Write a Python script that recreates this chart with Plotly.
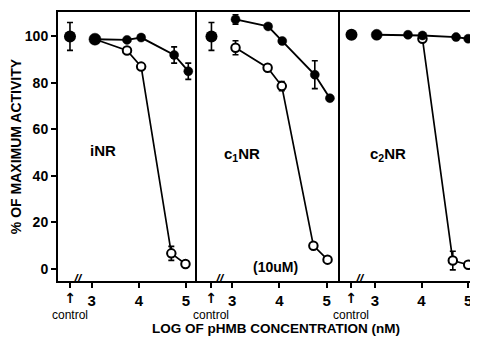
import plotly.graph_objects as go

# ---------------- data ----------------
panel_names = ["iNR", "c<sub>1</sub>NR", "c<sub>2</sub>NR"]
control_x = [2.54, 2.56, 2.50]
control_y = [100.0, 100.0, 100.7]
control_err = [6, 6, None]

inr_filled_x = [3.07, 3.75, 4.05, 4.75, 5.05]
inr_filled_y = [98.8, 98.5, 99.5, 92.0, 85.0]
inr_filled_err = [None, None, None, 3.5, 3.5]
inr_open_x = [3.07, 3.75, 4.05, 4.69, 4.99]
inr_open_y = [98.8, 93.9, 87.0, 6.6, 2.0]
inr_open_err = [None, None, None, 3, None]

c1_filled_x = [3.07, 3.76, 4.06, 4.75, 5.07]
c1_filled_y = [107.3, 104.3, 98.0, 83.5, 73.4]
c1_filled_err = [2, None, None, 6, None]
c1_open_x = [3.07, 3.75, 4.05, 4.72, 5.02]
c1_open_y = [95.1, 86.5, 78.6, 9.9, 3.9]
c1_open_err = [3, None, 2, None, None]

c2_filled_x = [3.04, 3.71, 4.02, 4.74, 5.00]
c2_filled_y = [100.7, 100.7, 100.4, 99.7, 99.0]
c2_filled_err = [None, None, None, None, None]
c2_open_x = [4.02, 4.67, 5.00]
c2_open_y = [99.0, 3.5, 1.7]
c2_open_err = [None, 4, None]

y_ticks = [0, 20, 40, 60, 80, 100]
x_ticks = [3, 4, 5]
x_tick_labels = ["3", "4", "5"]
control_label = ("<span style='font-family:DejaVu Sans;font-size:14px;"
                 "font-weight:bold;fill:#000000'>↑</span><br>control")

# ---------------- style ----------------
FONT = "Liberation Sans, Arial, sans-serif"
domains = [[0.0, 0.332], [0.332, 0.671], [0.671, 1.0]]
xranges = [[2.286, 5.244], [2.263, 5.28], [2.25, 5.21]]
yrange = [-5.3, 110.5]
big_sizes = [[12, 9, 9, 9, 9], [9, 9, 9, 9, 9], [11, 9, 9, 9, 9]]
label_x = [3.24, 3.2, 3.28]
label_y = [51, 49, 49]
break_x = [2.71, 2.74, 2.69]

fig = go.Figure()

series = [
    (inr_filled_x, inr_filled_y, inr_filled_err, inr_open_x, inr_open_y, inr_open_err),
    (c1_filled_x, c1_filled_y, c1_filled_err, c1_open_x, c1_open_y, c1_open_err),
    (c2_filled_x, c2_filled_y, c2_filled_err, c2_open_x, c2_open_y, c2_open_err),
]

def err_trace(xs, ys, errs, xa, ya):
    idx = [i for i, e in enumerate(errs) if e is not None]
    if not idx:
        return
    fig.add_trace(go.Scatter(
        x=[xs[i] for i in idx], y=[ys[i] for i in idx], mode="markers",
        marker=dict(size=1, color="rgba(0,0,0,0)"),
        error_y=dict(type="data", array=[errs[i] for i in idx], color="black",
                     thickness=1.6, width=3),
        xaxis=xa, yaxis=ya, showlegend=False, hoverinfo="skip"))

for p in range(3):
    xa = "x" if p == 0 else f"x{p+1}"
    ya = "y" if p == 0 else f"y{p+1}"
    fx, fy, fe, ox, oy, oe = series[p]
    err_trace(fx, fy, fe, xa, ya)
    err_trace(ox, oy, oe, xa, ya)
    fig.add_trace(go.Scatter(
        x=ox, y=oy, mode="lines+markers",
        line=dict(color="black", width=1.7),
        marker=dict(symbol="circle", size=8.5, color="white", opacity=1,
                    line=dict(color="black", width=2)),
        xaxis=xa, yaxis=ya, showlegend=False))
    fig.add_trace(go.Scatter(
        x=fx, y=fy, mode="lines+markers",
        line=dict(color="black", width=1.9),
        marker=dict(symbol="circle", size=big_sizes[p], color="black", opacity=1,
                    line=dict(color="black", width=0.5)),
        xaxis=xa, yaxis=ya, showlegend=False))
    err = control_err[p]
    fig.add_trace(go.Scatter(
        x=[control_x[p]], y=[control_y[p]], mode="markers",
        marker=dict(symbol="circle", size=12, color="black", opacity=1),
        error_y=(dict(type="data", array=[err], color="black", thickness=1.6, width=3)
                 if err is not None else dict(visible=False)),
        xaxis=xa, yaxis=ya, showlegend=False))

# the page body has an 8px margin: the figure is shrunk by 8px so that the
# plot area lands where the reference has it
layout = dict(
    width=470, height=329,
    margin=dict(l=50, r=0, t=4, b=56, autoexpand=False),
    paper_bgcolor="white", plot_bgcolor="white",
    font=dict(family=FONT, color="black", size=14),
    showlegend=False,
    template="none",
)

for p in range(3):
    xk = "xaxis" if p == 0 else f"xaxis{p+1}"
    yk = "yaxis" if p == 0 else f"yaxis{p+1}"
    ya = "y" if p == 0 else f"y{p+1}"
    xa = "x" if p == 0 else f"x{p+1}"
    layout[xk] = dict(
        domain=domains[p], range=xranges[p], anchor=ya, automargin=False,
        tickvals=[control_x[p]] + x_ticks, ticktext=[""] + x_tick_labels,
        ticks="outside", ticklen=5, tickwidth=1.6, tickcolor="black",
        showline=True, linecolor="black", linewidth=2, mirror=True,
        showgrid=False, zeroline=False,
        tickfont=dict(family=FONT, size=15, weight="bold", color="black"),
    )
    layout[yk] = dict(
        domain=[0, 1], range=yrange, anchor=xa, automargin=False,
        showline=True, linecolor="black", linewidth=2 if p == 0 else 1.6,
        showgrid=False, zeroline=False,
        tickvals=y_ticks if p == 0 else [],
        showticklabels=(p == 0),
        ticks="outside" if p == 0 else "", ticklen=5, tickwidth=1.6, tickcolor="black",
        tickfont=dict(family=FONT, size=14, weight="bold", color="black"),
    )
    layout[f"xaxis{p+4}"] = dict(
        domain=domains[p], range=xranges[p], overlaying=xa, anchor=ya, side="bottom",
        tickvals=[control_x[p]] + x_ticks, ticks="inside", ticklen=4, tickwidth=1.6,
        tickcolor="black", showticklabels=False, showline=False, showgrid=False,
        zeroline=False, automargin=False)

layout["yaxis4"] = dict(
    domain=[0, 1], range=yrange, overlaying="y", anchor="x", side="left",
    tickvals=y_ticks, ticks="inside", ticklen=4, tickwidth=1.6, tickcolor="black",
    showticklabels=False, showline=False, showgrid=False, zeroline=False,
    automargin=False)

layout["yaxis"]["title"] = dict(text="% OF MAXIMUM ACTIVITY",
                                font=dict(family=FONT, size=14, weight="bold", color="black"),
                                standoff=8)

fig.update_layout(**layout)

annotations = []
for p in range(3):
    xa = "x" if p == 0 else f"x{p+1}"
    ya = "y" if p == 0 else f"y{p+1}"
    annotations.append(dict(
        x=label_x[p], y=label_y[p], xref=xa, yref=ya, text=panel_names[p],
        showarrow=False, font=dict(family=FONT, size=15, weight="bold", color="black")))
    annotations.append(dict(
        x=control_x[p], y=0, xref=xa, yref="paper", yanchor="top", yshift=-8,
        text=control_label, showarrow=False, borderpad=0,
        font=dict(family=FONT, size=12, color="black")))
    annotations.append(dict(
        x=break_x[p], y=0, xref=xa, yref="paper", yanchor="middle",
        yshift=3, text="<i>//</i>", showarrow=False,
        font=dict(family=FONT, size=13, weight="bold", color="black")))

annotations.append(dict(x=3.92, y=0.6, xref="x2", yref="y2", text="(10uM)",
                        showarrow=False,
                        font=dict(family=FONT, size=14, weight="bold", color="black")))
annotations.append(dict(x=0.519, y=0, xref="paper", yref="paper", yanchor="middle",
                        yshift=-47.5, text="LOG OF pHMB CONCENTRATION (nM)",
                        showarrow=False, borderpad=0,
                        font=dict(family=FONT, size=13.5, weight="bold", color="black")))
fig.update_layout(annotations=annotations)

fig.write_html("out.html")
